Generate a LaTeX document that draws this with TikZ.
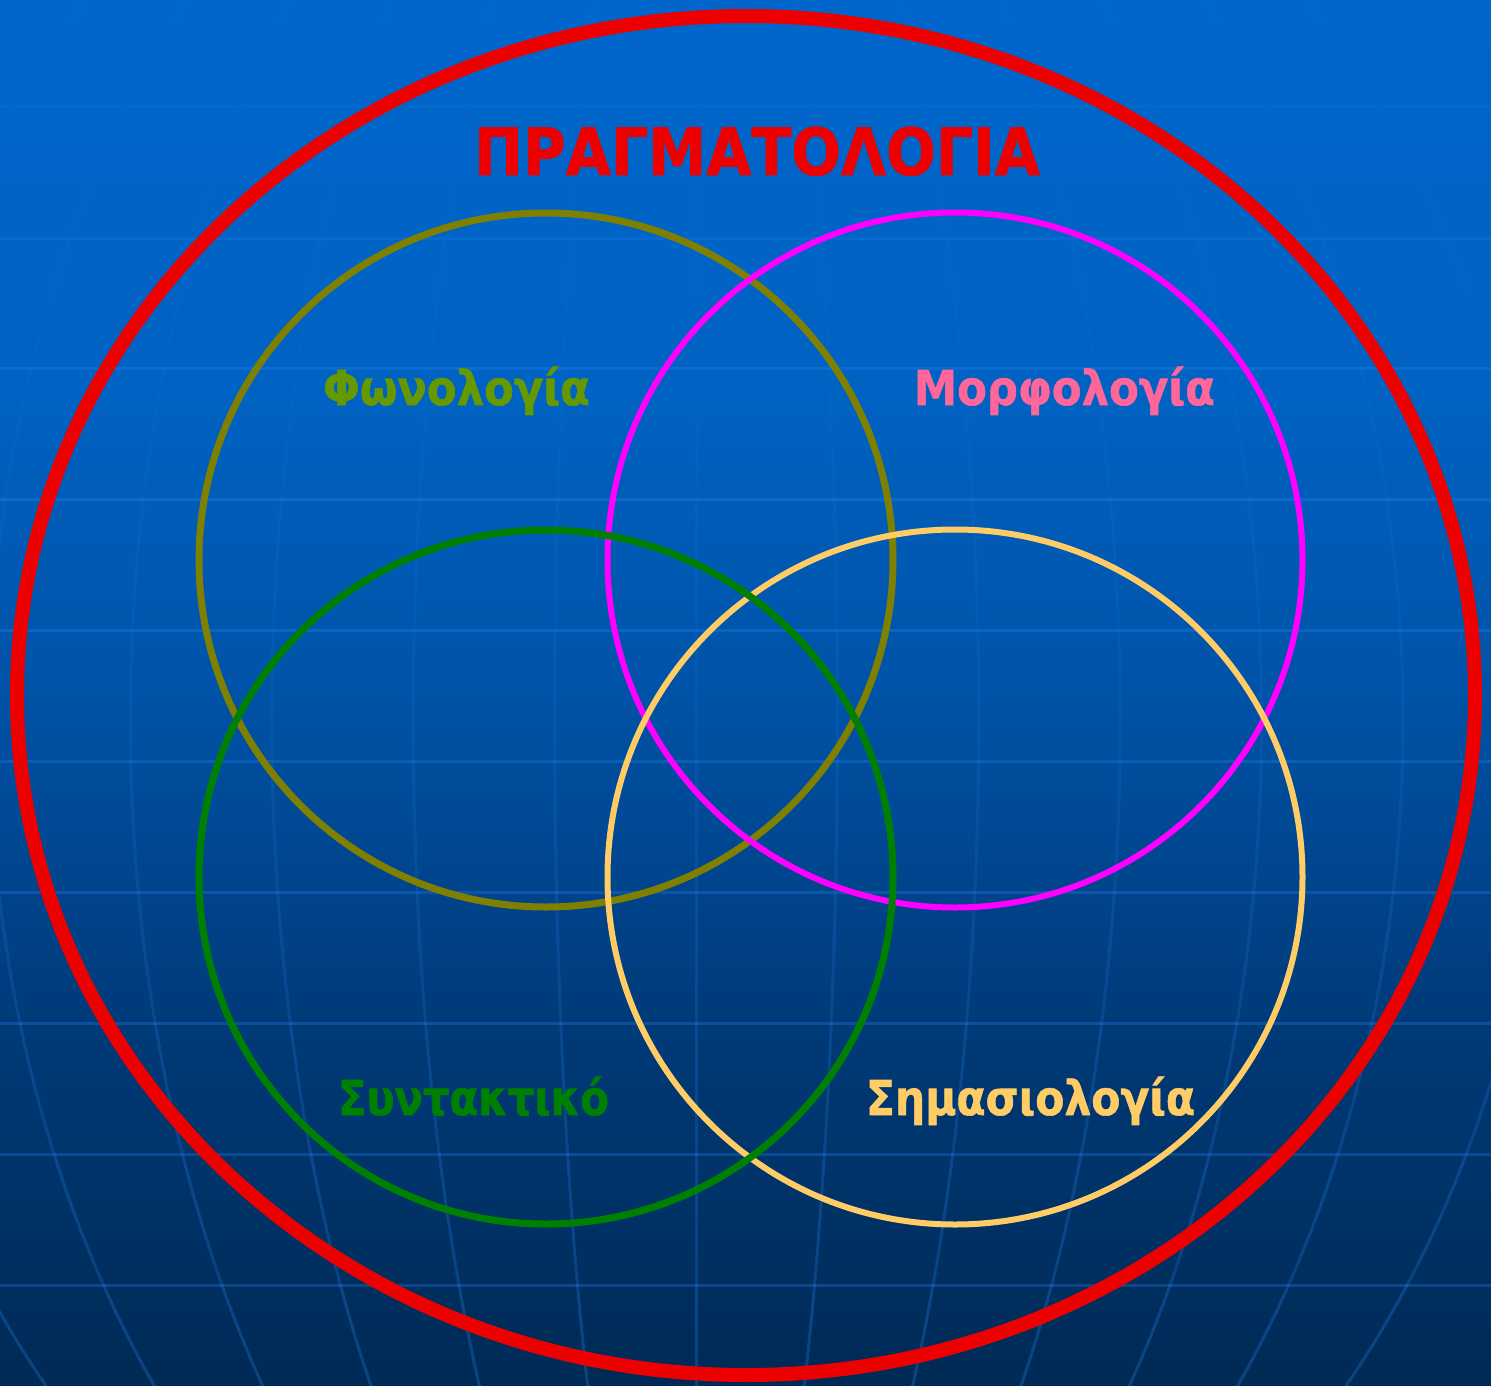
\documentclass[tikz,border=0pt]{standalone}
\usepackage{fontspec}
\setmainfont{DejaVu Sans}[BoldFeatures={FakeBold=1.2}]
\usepackage{graphicx}
\definecolor{bgA}{RGB}{0,102,204}
\definecolor{bgA2}{RGB}{0,98,194}
\definecolor{bgB}{RGB}{0,82,166}
\definecolor{bgC}{RGB}{0,58,120}
\definecolor{bgD}{RGB}{0,42,85}
\definecolor{gridc}{RGB}{40,130,240}
\definecolor{redc}{RGB}{236,0,0}
\definecolor{olivec}{RGB}{128,128,0}
\definecolor{fonc}{RGB}{102,153,0}
\definecolor{magc}{RGB}{255,0,255}
\definecolor{morc}{RGB}{255,102,153}
\definecolor{greenc}{RGB}{0,128,0}
\definecolor{yelc}{RGB}{255,204,102}
\pgfdeclareverticalshading{bgshade}{100bp}{color(0bp)=(bgD); color(25bp)=(bgD); color(38bp)=(bgC); color(49.75bp)=(bgB); color(60.6bp)=(bgA2); color(75bp)=(bgA); color(100bp)=(bgA)}
\newsavebox\lblbox
\newcommand\fitw[2]{\sbox\lblbox{#2}\pgfmathsetmacro\lblf{#1/\wd\lblbox}\scalebox{\lblf}[1]{\usebox\lblbox}}
\begin{document}
\begin{tikzpicture}[x=1pt,y=-1pt,
  lbl/.style={inner sep=0pt, anchor=base, font=\fontsize{48}{52}\selectfont\bfseries},
  ttl/.style={inner sep=0pt, anchor=base, font=\fontsize{65}{70}\selectfont\bfseries},
  ring/.style={line width=6.5pt}]
\useasboundingbox (0,0) rectangle (1491,1386);
\fill[shading=bgshade] (0,0) rectangle (1491,1386);
\begin{scope}
\clip (0,0) rectangle (1491,1386);
% horizontal grid
\foreach \yy in {107,238,368,499,630,761,892,1023,1154,1285}{
  \pgfmathsetmacro\hop{min(0.3,0.3*\yy/368)}
  \draw[draw=gridc, opacity=\hop, line width=3pt] (0,\yy) -- (1491,\yy);
}
% meridians
\foreach \k in {-6,...,6}{
  \foreach \ya/\yb in {0/107,107/238,238/368,368/499,499/630,630/761,761/892,892/1023,1023/1154,1154/1285,1285/1386}{
    \pgfmathsetmacro\op{0.03+0.27*((\ya+\yb)/2/1386)^1.5}
    \draw[draw=gridc, opacity=\op, line width=3pt]
      plot[domain=\ya:\yb, samples=8, smooth] ({696+\k*141.4*sqrt(1-((\x-720)/1036)^2)}, {\x});
  }
}
\end{scope}
% circles
\coordinate (cfon) at (546,560);
\coordinate (cmor) at (955,560);
\coordinate (csyn) at (546,877);
\coordinate (csem) at (955,877);
\coordinate (cprag) at (746,695.5);
\draw[ring, draw=olivec, line width=7pt] (cfon) circle[radius=347];
\draw[ring, draw=magc, line width=6pt] (cmor) circle[radius=347.5];
\draw[ring, draw=yelc, line width=6pt] (csem) circle[radius=347.5];
\draw[ring, draw=greenc, line width=7pt] (csyn) circle[radius=347];
\draw[draw=redc, line width=14pt] (cprag) ellipse[x radius=729, y radius=679.5];
% labels
\node[ttl, text=redc] (prag) at (757,175) {\fitw{566pt}{ΠΡΑΓΜΑΤΟΛΟΓΙΑ}};
\node[lbl, text=fonc] (fon) at (456.5,405) {\fitw{267pt}{Φωνολογία}};
\node[lbl, text=morc] (mor) at (1064.5,405) {\fitw{301pt}{Μορφολογία}};
\node[lbl, text=greenc] (syn) at (473.5,1115) {\fitw{271pt}{Συντακτικό}};
\node[lbl, text=yelc] (sem) at (1030.5,1115) {\fitw{329pt}{Σημασιολογία}};
\end{tikzpicture}
\end{document}
